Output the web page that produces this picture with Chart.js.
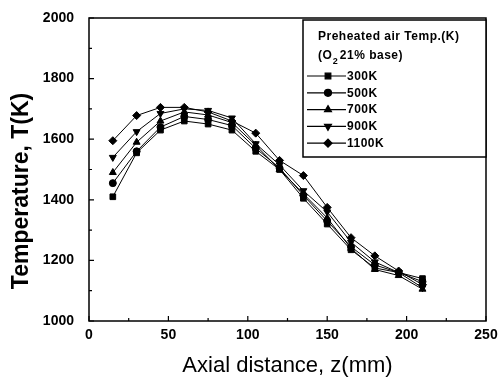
<!DOCTYPE html>
<html>
<head>
<meta charset="utf-8">
<script src="https://cdn.jsdelivr.net/npm/chart.js@4/dist/chart.umd.min.js"></script>
<style>
  html, body { margin: 0; padding: 0; background: #fff; }
  #wrap { width: 498px; height: 383px; }
</style>
</head>
<body>
<div id="wrap"><canvas id="chart" width="498" height="383"></canvas></div>
<script>
// axial positions (mm)
const axialDistance = [15, 30, 45, 60, 75, 90, 105, 120, 135, 150, 165, 180, 195, 210];

// temperature (K) per preheated air temp
const temp300 = [1410, 1555, 1630, 1660, 1650, 1630, 1560, 1500, 1405, 1320, 1235, 1175, 1160, 1140];
const temp500 = [1455, 1560, 1640, 1675, 1665, 1645, 1570, 1505, 1415, 1330, 1245, 1185, 1160, 1130];
const temp700 = [1490, 1590, 1660, 1690, 1680, 1655, 1580, 1500, 1420, 1340, 1240, 1170, 1150, 1105];
const temp900 = [1540, 1625, 1685, 1700, 1695, 1670, 1585, 1515, 1430, 1360, 1260, 1195, 1160, 1110];
const temp1100 = [1595, 1678, 1705, 1705, 1690, 1660, 1620, 1530, 1480, 1375, 1275, 1215, 1165, 1120];

const seriesLabels = ["300K", "500K", "700K", "900K", "1100K"];
const seriesValues = [temp300, temp500, temp700, temp900, temp1100];
const markerStyles = ["rect", "circle", "triangle", "triangle", "rectRot"];
const markerRotation = [0, 0, 0, 180, 0];

const legendTitle = "Preheated air Temp.(K)";

const FONT = "'Liberation Sans', Arial, sans-serif";

const datasets = seriesValues.map((vals, i) => ({
  label: seriesLabels[i],
  data: vals.map((v, j) => ({ x: axialDistance[j], y: v })),
  borderColor: "#000",
  backgroundColor: "#000",
  borderWidth: 1,
  pointStyle: markerStyles[i],
  rotation: markerRotation[i],
  pointRadius: markerStyles[i] === "circle" ? 3.5 : 4,
  pointBorderWidth: 1,
  tension: 0
}));

// frame, inward ticks, y title, legend box
const decor = {
  id: "decor",
  afterDraw(chart) {
    const ctx = chart.ctx;
    const a = chart.chartArea;
    const xs = chart.scales.x, ys = chart.scales.y;
    ctx.save();
    ctx.strokeStyle = "#000";
    ctx.lineWidth = 1.5;
    ctx.strokeRect(a.left, a.top, a.right - a.left, a.bottom - a.top);

    ctx.lineWidth = 1.2;
    ctx.beginPath();
    for (let v = 0; v <= 250; v += 25) {
      const px = xs.getPixelForValue(v);
      const len = v % 50 === 0 ? 5 : 3;
      ctx.moveTo(px, a.bottom);
      ctx.lineTo(px, a.bottom - len);
    }
    for (let v = 1000; v <= 2000; v += 100) {
      const py = ys.getPixelForValue(v);
      const len = v % 200 === 0 ? 5 : 3;
      ctx.moveTo(a.left, py);
      ctx.lineTo(a.left + len, py);
    }
    ctx.stroke();

    // y axis title
    ctx.save();
    ctx.translate(22, 191);
    ctx.rotate(-Math.PI / 2);
    ctx.fillStyle = "#000";
    ctx.font = "bold 23px " + FONT;
    ctx.textAlign = "center";
    ctx.textBaseline = "middle";
    ctx.fillText("Temperature, T(K)", 0, 0);
    ctx.restore();

    // legend box
    const bx = 303, by = 20, bw = a.right - 303, bh = 137;
    ctx.fillStyle = "#fff";
    ctx.fillRect(bx, by, bw, bh);
    ctx.lineWidth = 1.5;
    ctx.strokeRect(bx, by, bw, bh);

    ctx.fillStyle = "#000";
    ctx.font = "bold 12px " + FONT;
    ctx.textAlign = "left";
    ctx.textBaseline = "middle";
    ctx.letterSpacing = "0.5px";
    ctx.fillText(legendTitle, 318, 37);
    let tx = 318;
    ctx.fillText("(O", tx, 56);
    tx += ctx.measureText("(O").width;
    ctx.font = "bold 9px " + FONT;
    ctx.fillText("2", tx + 0.5, 62);
    tx += ctx.measureText("2").width + 2;
    ctx.font = "bold 12px " + FONT;
    ctx.fillText("21% base)", tx, 56);

    chart.data.datasets.forEach((ds, i) => {
      const y = 76 + i * 16.8;
      ctx.strokeStyle = "#000";
      ctx.lineWidth = 1.2;
      ctx.beginPath();
      ctx.moveTo(307, y);
      ctx.lineTo(346, y);
      ctx.stroke();
      ctx.fillStyle = "#000";
      Chart.helpers.drawPoint(ctx, {
        pointStyle: ds.pointStyle,
        rotation: ds.rotation,
        radius: ds.pointRadius,
        borderWidth: 1
      }, 328, y);
      ctx.fillStyle = "#000";
      ctx.font = "bold 12px " + FONT;
      ctx.fillText(ds.label, 347, y + 0.5);
    });
    ctx.restore();
  }
};

new Chart(document.getElementById("chart"), {
  type: "line",
  data: { datasets },
  options: {
    responsive: false,
    animation: false,
    layout: { padding: { top: 18, right: 0, left: 0, bottom: 0 } },
    plugins: { legend: { display: false }, tooltip: { enabled: false } },
    scales: {
      x: {
        type: "linear",
        min: 0,
        max: 250,
        ticks: {
          stepSize: 50,
          color: "#000",
          font: { family: FONT, size: 14, weight: "bold" },
          padding: 6,
          maxRotation: 0,
          callback: (v) => String(v)
        },
        grid: { display: false, drawTicks: false },
        border: { display: false },
        title: {
          display: true,
          text: "Axial distance, z(mm)",
          color: "#000",
          font: { family: FONT, size: 22 },
          padding: { top: 0 }
        },
        afterFit(scale) {
          scale.height = 62;
          scale.paddingRight = 12;
          scale.paddingLeft = 0;
        }
      },
      y: {
        min: 1000,
        max: 2000,
        ticks: {
          stepSize: 200,
          color: "#000",
          font: { family: FONT, size: 14, weight: "bold" },
          padding: 15,
          callback: (v) => String(v)
        },
        grid: { display: false, drawTicks: false },
        border: { display: false },
        afterFit(scale) {
          scale.width = 89;
          scale.paddingTop = 0;
          scale.paddingBottom = 0;
        }
      }
    }
  },
  plugins: [decor]
});
</script>
</body>
</html>
